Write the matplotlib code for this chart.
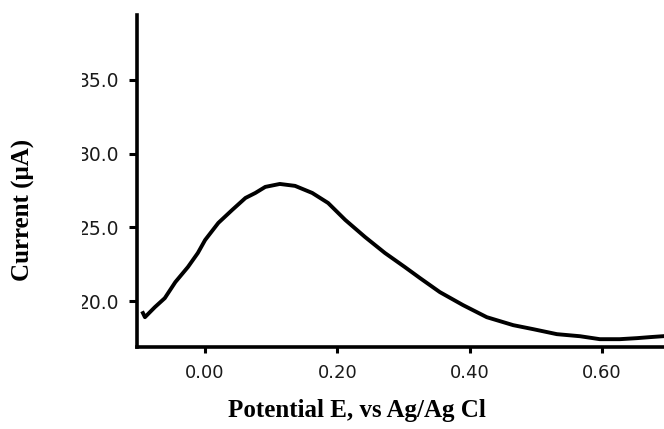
import matplotlib
matplotlib.use("Agg")
import matplotlib.pyplot as plt
from matplotlib.transforms import Bbox, TransformedBbox

# potential (V vs Ag/AgCl) and current (uA)
potential = [-0.094, -0.091, -0.076, -0.061, -0.045, -0.026, -0.011, 0.000,
             0.020, 0.041, 0.061, 0.076, 0.091, 0.113, 0.136, 0.162, 0.186,
             0.212, 0.242, 0.272, 0.302, 0.325, 0.355, 0.390, 0.426, 0.466,
             0.496, 0.532, 0.567, 0.597, 0.627, 0.653, 0.673, 0.692]
current = [19.19, 18.91, 19.59, 20.20, 21.29, 22.31, 23.26, 24.14,
           25.30, 26.18, 26.99, 27.33, 27.74, 27.94, 27.81, 27.33, 26.65,
           25.50, 24.34, 23.26, 22.31, 21.56, 20.61, 19.73, 18.91, 18.37,
           18.10, 17.76, 17.62, 17.42, 17.42, 17.49, 17.56, 17.62]

xticks = [0.0, 0.2, 0.4, 0.6]
xtick_labels = ["0.00", "0.20", "0.40", "0.60"]
yticks = [20, 25, 30, 35]
ytick_labels = ["20.0", "25.0", "30.0", "35.0"]

fig = plt.figure(figsize=(6.64, 4.29), dpi=100)
ax = fig.add_axes([137 / 664, 1 - 347 / 429, 1 - 137 / 664, (347 - 15) / 429])

ax.plot(potential, current, color="black", linewidth=2.8, solid_joinstyle="round")

ax.set_xlim(-0.103, 0.694)
ax.set_ylim(16.89, 39.39)

for s in ["top", "right"]:
    ax.spines[s].set_visible(False)
for s in ["left", "bottom"]:
    ax.spines[s].set_linewidth(2.6)

ax.set_xticks(xticks)
ax.set_xticklabels(xtick_labels)
ax.set_yticks(yticks)
ax.set_yticklabels(ytick_labels)
ax.tick_params(axis="y", direction="out", length=6, width=2.2, pad=7,
               labelsize=13.5, labelcolor="#1a1a1a")
ax.tick_params(axis="x", direction="out", length=4, width=2.2, pad=8,
               labelsize=13, labelcolor="#1a1a1a")

# the y tick labels are cut off at the left in the original
clip = TransformedBbox(Bbox([[82 / 664, 0], [1, 1]]), fig.transFigure)
for lab in ax.get_yticklabels():
    lab.set_clip_box(clip)
    lab.set_clip_on(True)

fig.text(357 / 664, 1 - 417 / 429, "Potential E, vs Ag/Ag Cl", ha="center", va="baseline",
         family="Liberation Serif", fontweight="bold", fontsize=18)
fig.text(23 / 664, 1 - 210 / 429, "Current (μA)", ha="center", va="center", rotation=90,
         family="Liberation Serif", fontweight="bold", fontsize=18)

fig.savefig("out.png", dpi=100)
